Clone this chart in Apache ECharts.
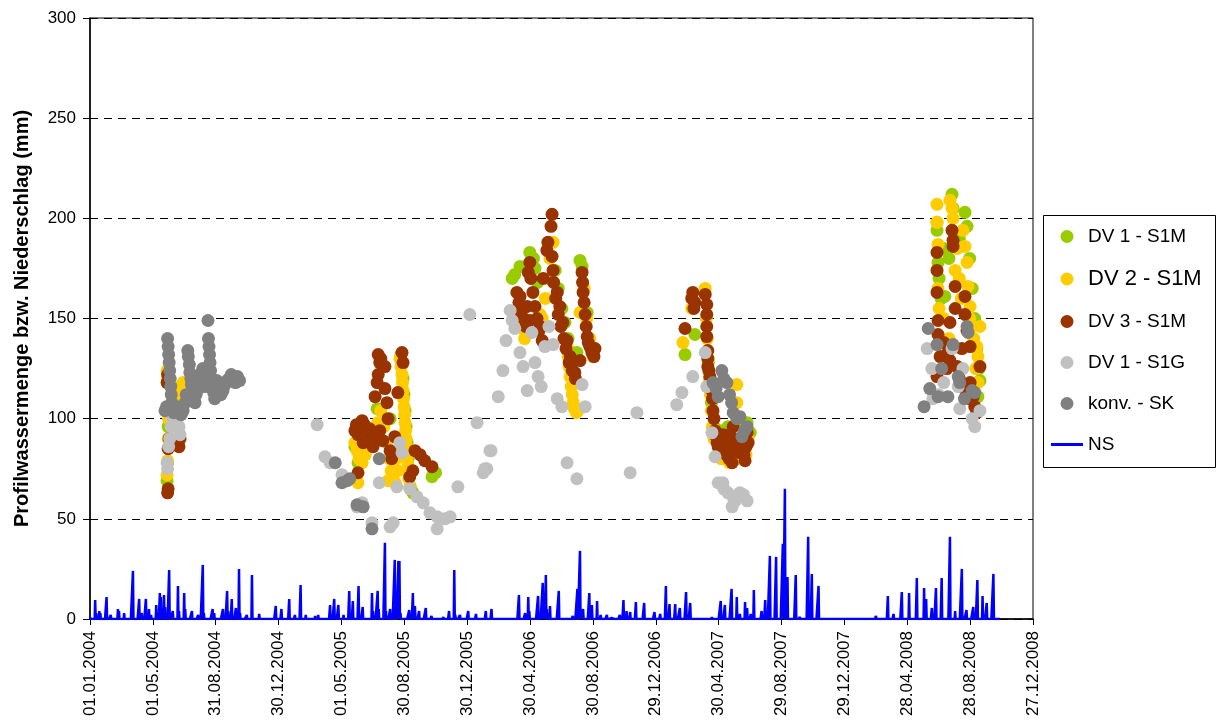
<!DOCTYPE html>
<html>
<head>
<meta charset="utf-8">
<script src="https://cdn.jsdelivr.net/npm/echarts@6/dist/echarts.min.js"></script>
<style>
html,body{margin:0;padding:0;background:#fff;}
#chart{width:1223px;height:726px;}
</style>
</head>
<body>
<div id="chart"></div>
<script>
// x values are days since 01.01.2004
const tickLabels = ['01.01.2004','01.05.2004','31.08.2004','30.12.2004','01.05.2005','30.08.2005','30.12.2005','30.04.2006','30.08.2006','29.12.2006','30.04.2007','29.08.2007','29.12.2007','28.04.2008','28.08.2008','27.12.2008'];
const seriesNames = ['DV 1 - S1M','DV 2 - S1M','DV 3 - S1M','DV 1 - S1G','konv. - SK','NS'];

const dv1S1M = [
 [149,69],[150,78],[151,96],[153,104],[176,113],[178,117],[180,115],
 [601,132],[603,127],[605,120],[607,112],[609,104],[611,96],[613,88],[615,80],[617,72],[619,66],[555,105],[512,86],[518,78],[661,71],[668,73],[624,63],[592,82],[580,100],
 [850,183],[831,176],[821,172],[816,170],[947,179],[951,176],[961,153],[941,133],[860,175],[865,168],[905,165],[912,155],[918,148],[924,140],[930,133],[857,180],[899,174],
 [1150,132],[1169,142],[1233,96],[1276,93],[1195,128],[1201,108],[1206,96],[1212,94],[1218,94],[1262,96],[1270,98],
 [1666,212],[1691,203],[1637,198],[1637,194],[1639,178],[1652,161],[1720,119],[1716,111],[1668,205],[1680,190],[1695,196],[1700,180],[1705,165],[1710,150],[1714,135],[1718,125],[1641,170],[1645,160],[1660,180],[1650,185]
];
const dv2S1M = [
 [149,72],[150,79],[151,90],[152,100],[149,124],[150,120],[176,110],[178,114],[180,118],
 [599,130],[601,126],[603,122],[604,118],[605,114],[606,110],[607,106],[608,102],[609,98],[610,94],[611,90],[612,86],[613,82],[614,78],[615,74],[616,70],[618,66],
 [512,88],[516,84],[520,80],[526,78],[532,82],[540,86],[548,92],[556,98],[562,104],[568,96],[574,88],[578,80],[582,74],[586,70],[590,68],[518,68],[576,69],[595,74],[592,80],
 [922,136],[924,131],[926,126],[928,121],[930,116],[932,112],[934,108],[936,105],[940,103],[943,104],[845,143],[947,153],[972,131],[830,150],[835,145],[840,140],[955,165],[960,150],[966,140],[874,150],[880,160],[887,170],[889,180],[895,188],[870,152],
 [1189,165],[1163,155],[1146,138],[1250,117],[1250,108],[1191,150],[1193,140],[1195,130],[1197,120],[1199,112],[1201,104],[1203,96],[1206,90],[1212,82],[1220,80],[1228,80],[1236,78],[1244,80],[1252,80],[1260,80],[1268,82],[1272,90],
 [1637,207],[1662,209],[1666,205],[1637,198],[1639,187],[1672,174],[1687,194],[1691,186],[1695,178],[1697,166],[1701,156],[1705,146],[1720,146],[1714,136],[1716,131],[1641,155],[1639,165],[1668,200],[1676,185],[1680,170],[1684,160],[1700,150],[1708,140],[1712,125],[1716,118],[1650,150],[1660,140]
];
const dv3S1M = [
 [150,63],[151,65],[151,85],[153,90],[149,118],[150,122],[172,86],[174,90],[176,105],
 [557,132],[560,128],[562,130],[570,126],[557,122],[555,118],[570,115],[551,111],[574,108],[595,113],[603,133],[605,128],[576,100],[526,99],[522,94],[518,92],[535,93],[545,90],[560,94],[566,89],[547,86],[528,88],[589,91],[628,84],[638,82],[647,79],[661,76],[624,74],[618,71],[518,73],[512,94],[515,97],[530,97],[540,95],[552,92],[583,80],[580,84],
 [893,202],[891,196],[885,188],[883,184],[893,181],[850,178],[847,173],[895,174],[876,170],[825,163],[831,161],[845,156],[850,149],[870,146],[874,139],[903,163],[908,156],[914,148],[922,139],[928,131],[937,123],[947,129],
 [852,170],[856,163],[860,156],[864,150],[868,144],[896,168],[900,160],[905,152],[910,146],[916,140],[920,135],[926,128],[932,124],[938,120],[829,158],[833,153],[838,150],[842,146],
 [951,173],[952,168],[953,163],[955,158],[957,152],[959,146],[961,141],[963,138],[966,136],[970,133],[974,131],[976,135],
 [1165,163],[1169,158],[1189,162],[1192,157],[1192,152],[1192,146],[1192,141],[1150,145],[1194,134],[1194,126],[1198,121],[1202,114],[1204,104],[1208,94],[1212,88],[1221,84],[1241,78],[1243,96],[1256,83],[1266,79],[1272,88],[1270,93],[1231,89],[1163,160],[1167,155],[1194,130],[1196,124],[1200,118],[1203,110],[1206,100],[1210,91],[1214,86],[1218,84],[1225,86],[1230,82],[1235,80],[1240,84],[1245,90],[1250,86],[1255,89],[1260,85],[1264,82],[1268,86],[1216,92],[1224,92],[1236,92],
 [1666,194],[1668,189],[1668,186],[1637,183],[1637,174],[1637,163],[1672,166],[1691,161],[1672,155],[1691,152],[1639,149],[1662,148],[1639,142],[1643,131],[1662,129],[1695,144],[1701,136],[1656,125],[1676,126],[1637,121],[1701,118],[1720,126],[1707,111],[1714,103],[1710,106],[1700,110],[1690,115],[1680,120],[1650,138],[1658,133],[1685,135]
];
const dv1S1G = [
 [149,78],[150,75],[152,86],[154,90],[157,96],[160,100],[166,106],[170,104],[172,96],[168,98],[174,92],
 [439,97],[454,81],[464,78],[487,72],[516,56],[526,58],[545,48],[559,68],[580,46],[586,48],[599,88],[603,83],[593,66],[618,65],[632,61],[644,58],[657,53],[671,51],[686,50],[696,51],[671,45],[711,66],[748,98],[760,73],[767,75],[775,84],
 [734,152],[773,84],[763,75],[789,111],[798,124],[804,139],[812,154],[816,149],[821,145],[831,133],[837,126],[845,114],[854,143],[860,128],[866,121],[872,116],[879,136],[887,146],[895,137],[903,110],[912,106],[922,78],[941,70],[951,117],[957,106],
 [1057,103],[1044,73],[1134,107],[1144,113],[1165,121],[1189,133],[1192,116],[1202,93],[1208,81],[1214,68],[1223,68],[1233,63],[1256,63],[1270,59],[1241,56],[1247,59],[1263,62],[1225,65],[1244,60],
 [1618,135],[1627,125],[1629,110],[1666,135],[1687,125],[1681,105],[1705,100],[1710,96],[1720,104],[1678,116],[1640,112],[1650,118]
];
const konvSK = [
 [150,140],[151,136],[152,132],[153,128],[154,124],[155,120],[156,116],[157,112],[158,108],[160,105],
 [145,104],[148,106],[162,103],[165,104],[168,106],[172,104],[176,102],[180,104],
 [189,134],[190,131],[192,127],[193,123],[195,120],[196,117],[198,114],[200,111],[203,108],
 [184,108],[186,112],[205,112],[210,115],[215,118],[205,118],[212,122],[218,125],[222,120],[224,116],
 [228,149],[229,140],[230,136],[231,132],[232,128],[233,124],[235,120],[237,116],[239,113],[241,110],
 [245,119],[249,116],[253,112],[257,114],[261,117],[265,119],[269,120],[273,122],[277,120],[281,118],[285,121],[289,119],
 [474,78],[487,68],[497,69],[502,70],[516,57],[528,56],[545,45],[559,80],
 [1221,124],[1204,118],[1231,118],[1214,111],[1243,103],[1256,101],[1270,96],[1260,91],[1210,115],[1225,120],[1236,112],[1240,108],[1250,100],[1265,94],
 [1620,145],[1695,146],[1697,143],[1637,137],[1668,137],[1623,115],[1639,111],[1658,111],[1678,121],[1681,118],[1705,114],[1710,113],[1612,106],[1690,110],[1646,125]
];
// daily precipitation: [day, mm] for rain days, all other days 0 mm; record ends at day 1759
const nsLastDay = 1759;
const nsRainDays = [[0,1],[10,9.5],[12,3],[18,4],[20,3],[32,11],[40,2],[54,5],[56,4],[66,3],[83,24],[95,10],[100,3],[108,10],[114,5],[118,2],[128,7],[135,13],[137,11],[143,12],[145,6],[153,24.5],[155,3],[160,4],[170,16.5],[172,4],[182,13],[184,5],[197,4],[209,2],[218,27],[220,3],[237,5],[240,3],[257,5],[265,14],[267,4],[274,10],[282,5.5],[288,25],[290,3],[303,2],[313,22],[327,2.5],[351,0.5],[359,6.5],[370,5],[385,10],[396,2],[407,17],[417,2],[435,1.5],[441,2],[464,7],[472,10],[480,7],[490,2],[501,14],[508,9],[519,16.5],[527,6],[545,13],[547,4],[556,14],[558,5],[570,38],[572,4],[580,5],[589,29.5],[592,4],[596,29],[598,29],[600,3],[617,4.5],[624,13],[628,6.5],[636,4],[649,5.5],[660,1.5],[683,1],[694,4],[704,24.5],[706,2],[715,2],[731,4],[746,2.5],[765,4],[776,5],[819,0.5],[829,12],[841,3],[847,11],[849,4],[866,11.5],[875,18],[878,6],[881,22],[883,5],[889,6.5],[906,14],[933,1.5],[942,15],[947,34],[949,3],[953,5],[965,13],[970,7],[980,9],[987,2],[999,2],[1008,0.5],[1024,2],[1031,9.5],[1037,4],[1044,3.5],[1055,8.5],[1071,8],[1079,0.5],[1091,3.5],[1102,2.5],[1113,16.5],[1120,7.5],[1131,7.5],[1140,5.5],[1152,13.5],[1160,8],[1202,1],[1219,9],[1227,7],[1240,15],[1250,11],[1256,2.5],[1266,8.5],[1270,5.5],[1277,2.5],[1283,14.5],[1298,4],[1305,9.5],[1314,31.5],[1326,31],[1339,37.5],[1343,65],[1345,10],[1348,21],[1364,22],[1372,1],[1388,41],[1395,22.5],[1408,16.5],[1519,1.5],[1542,11.5],[1553,2.5],[1569,13.5],[1583,13],[1598,20.5],[1612,15.5],[1616,10],[1627,5.5],[1635,15.5],[1646,20.5],[1662,41],[1672,4],[1685,25],[1694,4.5],[1707,6],[1715,19.5],[1725,11.5],[1733,8],[1746,22.5]];

const colors = ['#99CC00','#FFCC00','#993300','#C0C0C0','#808080','#0000FF'];

const nsDaily = [];
for (let d = 0; d <= nsLastDay; d++) nsDaily.push([d, 0]);
nsRainDays.forEach(([d, v]) => { nsDaily[d][1] = v; });

const FONT = '"Liberation Sans", Arial, sans-serif';
const chart = echarts.init(document.getElementById('chart'), null, {renderer: 'canvas'});
const scatterData = [dv1S1M, dv2S1M, dv3S1M, dv1S1G, konvSK];

const series = scatterData.map((d, i) => ({
  name: seriesNames[i], type: 'scatter', data: d, symbol: 'circle', symbolSize: 13,
  itemStyle: {color: colors[i], opacity: 1}, z: 2 + i
}));
series.push({
  name: seriesNames[5], type: 'line', data: nsDaily, symbol: 'none', showSymbol: false,
  lineStyle: {color: colors[5], width: 2.5}, itemStyle: {color: colors[5]}, z: 8
});

chart.setOption({
  animation: false,
  backgroundColor: '#fff',
  grid: {left: 90, top: 18, right: 190, bottom: 107, show: true, borderColor: '#000', borderWidth: 1, backgroundColor: 'transparent'},
  xAxis: {
    type: 'value', min: 0, max: 1822.5, interval: 121.5,
    axisLine: {show: true, onZero: false, lineStyle: {color: '#000', width: 1.5}},
    axisTick: {show: true, inside: false, length: 6, lineStyle: {color: '#000'}},
    splitLine: {show: false},
    axisLabel: {rotate: 90, margin: 12, color: '#000', fontSize: 17, fontFamily: FONT,
      formatter: v => tickLabels[Math.round(v / 121.5)] || ''}
  },
  yAxis: {
    type: 'value', min: 0, max: 300, interval: 50,
    name: 'Profilwassermenge bzw. Niederschlag (mm)', nameLocation: 'middle', nameGap: 58,
    nameTextStyle: {fontSize: 20, fontWeight: 'bold', color: '#000', fontFamily: FONT},
    axisLine: {show: true, lineStyle: {color: '#000', width: 1.5}},
    axisTick: {show: true, inside: false, length: 7, lineStyle: {color: '#000'}},
    splitLine: {show: true, lineStyle: {color: '#000', type: [8, 6], width: 1}},
    axisLabel: {margin: 14, color: '#000', fontSize: 17, fontFamily: FONT}
  },
  graphic: [{
    type: 'rect', left: 1043, top: 215, z: 0,
    shape: {width: 172, height: 252},
    style: {fill: '#fff', stroke: '#000', lineWidth: 1}
  }],
  legend: {
    orient: 'vertical', left: 1051, top: 227, padding: 0, itemGap: 22,
    itemWidth: 32, itemHeight: 13, itemStyle: {borderWidth: 0},
    textStyle: {fontSize: 19, color: '#000', fontFamily: FONT, padding: [0,0,0,0]},
    data: [
      {name: seriesNames[0], icon: 'circle'},
      {name: seriesNames[1], icon: 'circle', textStyle: {fontSize: 22}},
      {name: seriesNames[2], icon: 'circle'},
      {name: seriesNames[3], icon: 'circle'},
      {name: seriesNames[4], icon: 'circle'},
      {name: seriesNames[5], icon: 'path://M0,0 L32,0 L32,3 L0,3 Z', itemStyle: {color: colors[5]}}
    ]
  },
  series: series
});
</script>
</body>
</html>
